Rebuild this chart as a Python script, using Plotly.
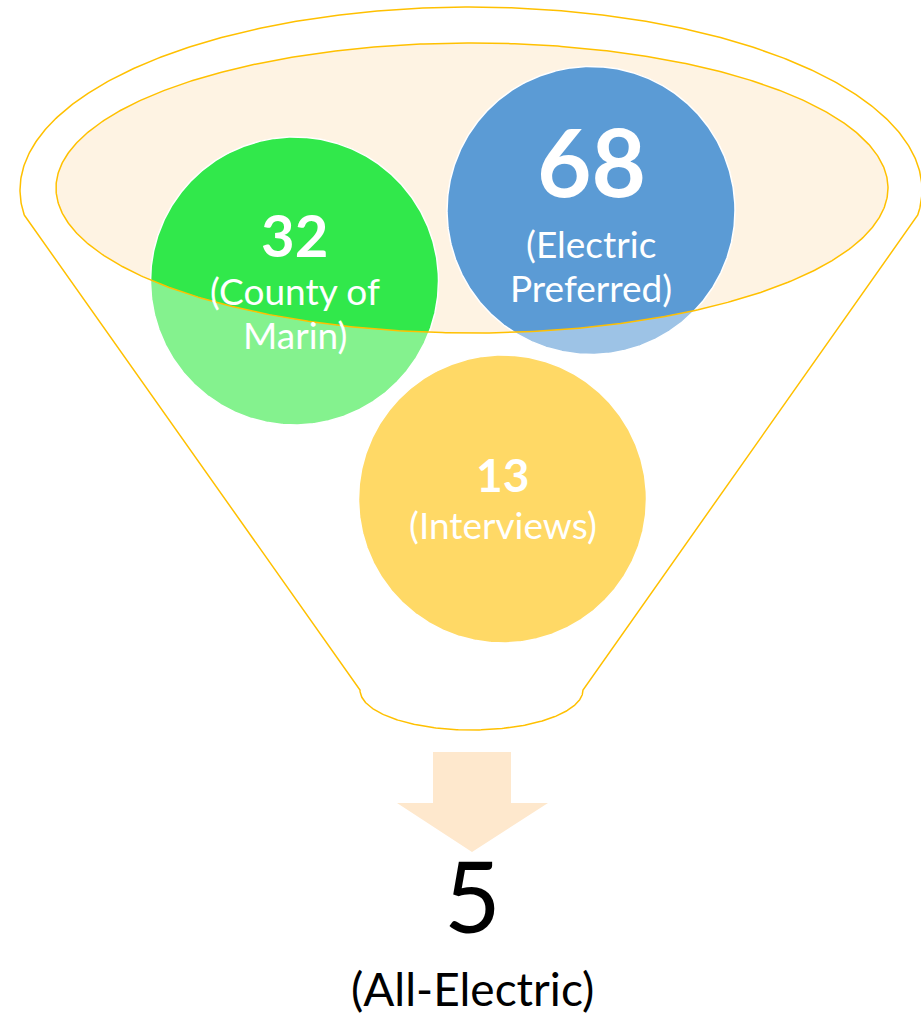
import numpy as np
import plotly.graph_objects as go

# ---------------- data ----------------
stage_values = [32, 68, 13]
stage_labels = [["(County of", "Marin)"], ["(Electric", "Preferred)"], ["(Interviews)"]]
result_value = 5
result_label = "(All-Electric)"

# ---------------- geometry / style ----------------
W, H = 921, 1016
OUTER = (471.0, 190.0, 451.0, 183.0)      # cx, cy, rx, ry (top rim of funnel)
INNER = (472.0, 188.0, 416.0, 145.0)      # mouth ellipse
NECK_TOP_Y = 215.0
BOTTOM = (471.5, 690.0, 111.5, 40.0)      # bottom cap ellipse
CIRCLES = [(294.5, 281.0), (591.0, 210.5), (502.5, 499.0)]
RADIUS = 144.0
BRIGHT = ["#31E84B", "#5B9BD5", "#FFD966"]
LIGHT = ["#84F28E", "#9DC3E6", "#FFD966"]
NUM_SIZE = [58, 94, 46]
LAB_SIZE = 37
NUM_MID = [236, 163, 475.5]        # visual centre of the digits
LAB_BASE = [305, 258, 539]         # baseline of first label line
LINE_GAP = 44
GOLD = "#FFC000"
MOUTH_FILL = "#FEF3E3"
ARROW_FILL = "#FEE8CD"
FONT = "Lato"
ASC, DESC, DIGIT_H = 0.987, 0.213, 0.72   # Lato metrics (em)


def box_center_from_baseline(base, fs):
    return base - (ASC - DESC) / 2 * fs


def box_center_from_digit_mid(mid, fs):
    return mid + DIGIT_H / 2 * fs - (ASC - DESC) / 2 * fs


def ellipse_pts(cx, cy, rx, ry, t):
    return cx + rx * np.cos(t), cy + ry * np.sin(t)


fig = go.Figure()

# outer funnel outline
cx, cy, rx, ry = OUTER
t0 = np.arcsin((NECK_TOP_Y - cy) / ry)
t = np.linspace(np.pi - t0, 2 * np.pi + t0, 400)
ox, oy = ellipse_pts(cx, cy, rx, ry, t)
bcx, bcy, brx, bry = BOTTOM
tb = np.linspace(0, np.pi, 200)
bx, by = ellipse_pts(bcx, bcy, brx, bry, tb)
px = np.concatenate([ox, bx, ox[:1]])
py = np.concatenate([oy, by, oy[:1]])
fig.add_trace(go.Scatter(x=px, y=py, mode="lines", line=dict(color=GOLD, width=1.5),
                         hoverinfo="skip"))

# mouth ellipse fill
te = np.linspace(0, 2 * np.pi, 720)
ex, ey = ellipse_pts(*INNER, te)
fig.add_trace(go.Scatter(x=ex, y=ey, mode="lines", line=dict(width=0, color=MOUTH_FILL),
                         fill="toself", fillcolor=MOUTH_FILL, hoverinfo="skip"))


def inside_ellipse(x, y, e):
    cx, cy, rx, ry = e
    return ((x - cx) / rx) ** 2 + ((y - cy) / ry) ** 2 <= 1.0


tc = np.linspace(0, 2 * np.pi, 720)
for i, (ccx, ccy) in enumerate(CIRCLES):
    cxs = ccx + RADIUS * np.cos(tc)
    cys = ccy + RADIUS * np.sin(tc)
    fig.add_trace(go.Scatter(x=cxs, y=cys, mode="lines", line=dict(width=0, color=LIGHT[i]),
                             fill="toself", fillcolor=LIGHT[i], hoverinfo="skip"))
    # bright part: intersection with mouth ellipse
    m1 = inside_ellipse(cxs, cys, INNER)
    m2 = (ex - ccx) ** 2 + (ey - ccy) ** 2 <= RADIUS ** 2
    ix = np.concatenate([cxs[m1], ex[m2]])
    iy = np.concatenate([cys[m1], ey[m2]])
    if len(ix) > 2:
        order = np.argsort(np.arctan2(iy - ccy, ix - ccx))
        ix, iy = ix[order], iy[order]
        ix = np.append(ix, ix[0]); iy = np.append(iy, iy[0])
        fig.add_trace(go.Scatter(x=ix, y=iy, mode="lines", line=dict(width=0, color=BRIGHT[i]),
                                 fill="toself", fillcolor=BRIGHT[i], hoverinfo="skip"))

# circle white rims
for i, (ccx, ccy) in enumerate(CIRCLES):
    fig.add_trace(go.Scatter(x=ccx + RADIUS * np.cos(tc), y=ccy + RADIUS * np.sin(tc),
                             mode="lines", line=dict(width=1.5, color="white"), hoverinfo="skip"))

# mouth ellipse outline on top
fig.add_trace(go.Scatter(x=ex, y=ey, mode="lines", line=dict(width=1.5, color=GOLD), hoverinfo="skip"))

# arrow
ax = [433, 511, 511, 548, 472, 397, 433, 433]
ay = [752, 752, 803, 803, 852, 803, 803, 752]
fig.add_trace(go.Scatter(x=ax, y=ay, mode="lines", line=dict(width=0, color=ARROW_FILL),
                         fill="toself", fillcolor=ARROW_FILL, hoverinfo="skip"))

annotations = []
for i, (ccx, ccy) in enumerate(CIRCLES):
    annotations.append(dict(x=ccx, y=box_center_from_digit_mid(NUM_MID[i], NUM_SIZE[i]),
                            text=f"<b>{stage_values[i]}</b>", showarrow=False,
                            xanchor="center", yanchor="middle",
                            font=dict(family=FONT, size=NUM_SIZE[i], color="white")))
    for k, line in enumerate(stage_labels[i]):
        annotations.append(dict(x=ccx, y=box_center_from_baseline(LAB_BASE[i] + k * LINE_GAP, LAB_SIZE),
                                text=line, showarrow=False,
                                xanchor="center", yanchor="middle",
                                font=dict(family=FONT, size=LAB_SIZE, color="white")))
annotations.append(dict(x=472, y=box_center_from_digit_mid(897.5, 98), text=str(result_value),
                        showarrow=False, xanchor="center", yanchor="middle",
                        font=dict(family=FONT, size=98, color="black")))
annotations.append(dict(x=472, y=box_center_from_baseline(1006, 46), text=result_label,
                        showarrow=False, xanchor="center", yanchor="middle",
                        font=dict(family=FONT, size=46, color="black")))

fig.update_layout(
    width=W, height=H, margin=dict(l=0, r=0, t=0, b=0),
    paper_bgcolor="white", plot_bgcolor="white", showlegend=False,
    xaxis=dict(range=[0, W], visible=False, fixedrange=True),
    yaxis=dict(range=[H, 0], visible=False, fixedrange=True),
    annotations=annotations,
)
fig.write_html("out.html", config={"displayModeBar": False},
               post_script="document.body.style.margin='0';document.body.style.overflow='hidden';")
